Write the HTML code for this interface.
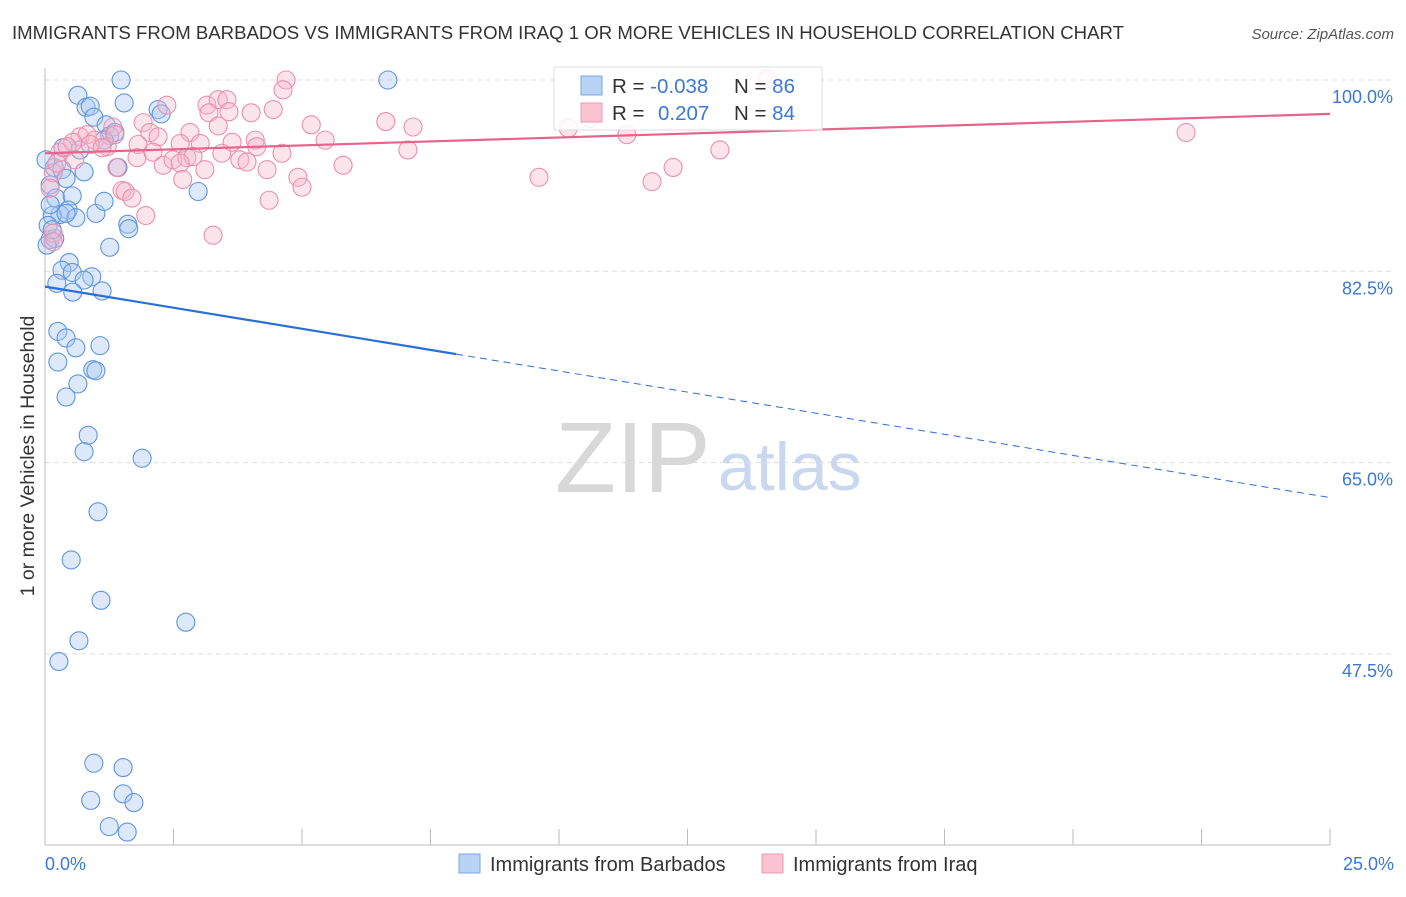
<!DOCTYPE html>
<html><head><meta charset="utf-8"><style>
body{margin:0;background:#fff;font-family:"Liberation Sans",sans-serif;}
svg text{font-family:"Liberation Sans",sans-serif;}
</style></head><body>
<svg id="c" width="1406" height="892">
<text x="12" y="39" font-size="18.6" fill="#333">IMMIGRANTS FROM BARBADOS VS IMMIGRANTS FROM IRAQ 1 OR MORE VEHICLES IN HOUSEHOLD CORRELATION CHART</text>
<text x="1394" y="39" font-size="15" fill="#555" text-anchor="end" font-style="italic">Source: ZipAtlas.com</text>
<text transform="translate(34,456) rotate(-90)" font-size="19.5" fill="#333" text-anchor="middle">1 or more Vehicles in Household</text>
<text x="555" y="492" font-size="100" fill="#d8d8d8" font-family="Liberation Serif">ZIP</text>
<text x="718" y="490" font-size="68" fill="#c9d8ef">atlas</text>
<g id="grid"></g><g id="axes"></g><g id="pts"></g><g id="trend"></g>
<g>
<rect x="554" y="67" width="268" height="63" fill="#fff" fill-opacity="0.85" stroke="#ddd"/>
<rect x="581" y="76" width="21" height="19" fill="#b9d3f5" stroke="#7aa6e6"/>
<rect x="581" y="103" width="21" height="19" fill="#f9c3d2" stroke="#ee9ab5"/>
<text x="612" y="93" font-size="20.5" fill="#333">R = <tspan fill="#3b78d8">-0.038</tspan></text>
<text x="734" y="93" font-size="20.5" fill="#333">N = <tspan fill="#3b78d8">86</tspan></text>
<text x="612" y="120" font-size="20.5" fill="#333">R = <tspan fill="#3b78d8" x="658">0.207</tspan></text>
<text x="734" y="120" font-size="20.5" fill="#333">N = <tspan fill="#3b78d8">84</tspan></text>
</g>
<g>
<rect x="459" y="854" width="21" height="19" fill="#b9d3f5" stroke="#7aa6e6"/>
<text x="490" y="871" font-size="20" fill="#333">Immigrants from Barbados</text>
<rect x="762" y="854" width="21" height="19" fill="#f9c3d2" stroke="#ee9ab5"/>
<text x="793" y="871" font-size="20" fill="#333">Immigrants from Iraq</text>
</g>
</svg>
<script>
const yTicks=[100,82.5,65,47.5];
const yTickLabels=["100.0%","82.5%","65.0%","47.5%"];
const xEndLabels=["0.0%","25.0%"];
const blueX=[1.48,6.67,0.64,0.80,0.88,1.54,2.20,2.26,0.95,1.19,1.26,1.36,1.15,2.98,0.18,0.33,0.76,0.41,0.10,0.21,0.53,0.45,0.29,0.14,0.60,0.99,0.41,1.15,1.61,1.63,0.10,0.19,1.26,0.47,0.33,0.53,0.91,0.76,0.23,0.54,1.11,0.25,0.41,0.60,1.07,0.25,0.93,0.99,0.64,0.41,0.84,0.76,1.89,1.03,0.51,1.09,2.74,0.66,0.27,0.95,1.52,0.89,1.52,1.73,1.25,1.60,0.06,0.04,0.14,1.42,0.02,0.10,0.35,0.68];
const blueY=[100,100,98.6,97.5,97.6,97.9,97.3,96.9,96.6,95.9,94.9,95.2,94.5,89.8,92.0,91.8,91.6,91.0,90.4,89.2,89.4,88.1,87.7,87.6,87.4,87.8,87.8,88.9,86.8,86.4,85.4,85.5,84.7,83.3,82.6,82.4,82.0,81.7,81.4,80.6,80.7,77.0,76.4,75.5,75.7,74.2,73.5,73.4,72.2,71.0,67.5,66.0,65.4,60.5,56.1,52.4,50.4,48.7,46.8,37.5,37.1,34.1,34.7,33.9,31.7,31.2,86.7,84.9,86.3,92.0,92.7,88.6,93.8,93.6];
const pinkX=[4.69,4.63,14.05,2.37,3.15,3.37,3.54,3.19,3.58,4.01,4.44,3.37,1.91,2.04,2.20,2.82,2.63,3.02,3.64,4.09,1.81,1.79,2.10,2.30,2.49,2.76,2.88,2.63,3.11,3.44,3.79,3.93,4.12,4.61,4.32,2.68,4.92,5.00,5.18,5.45,5.80,4.36,3.27,1.50,1.56,1.69,1.96,6.63,7.16,7.06,0.68,0.82,0.29,0.54,0.97,1.21,1.32,1.36,0.16,0.16,0.16,1.40,0.43,0.88,1.11,10.18,10.60,11.32,9.61,11.81,12.22,13.13,22.20,0.23,0.10,0.58];
const pinkY=[100,99.1,100.1,97.7,97.7,98.2,98.2,97.0,97.1,97.0,97.3,95.8,96.1,95.2,94.8,95.2,94.2,94.2,94.3,94.5,94.1,92.9,93.4,92.2,92.7,92.9,93.0,92.4,91.8,93.3,92.7,92.5,93.9,93.3,91.8,90.9,91.1,90.2,95.9,94.5,92.2,89.0,85.8,89.9,89.8,89.2,87.6,96.2,95.7,93.6,94.8,95.0,93.4,94.3,94.5,93.9,95.7,95.0,91.5,86.0,85.2,92.0,93.9,94.1,93.8,95.6,96.5,95.0,91.1,90.7,92.0,93.6,95.2,92.4,90.1,92.7];
const blueTrend=[81.1,61.8];
const blueSolidEnd=8.0;
const pinkTrend=[93.3,96.9];
const NS='http://www.w3.org/2000/svg';
const X=v=>45+v*(1330-45)/25;
const Y=v=>80+(100-v)*191.3/17.5;
function mk(t,a,p){const e=document.createElementNS(NS,t);for(const k in a)e.setAttribute(k,a[k]);p.appendChild(e);return e;}
const grid=document.getElementById('grid'),axes=document.getElementById('axes'),pts=document.getElementById('pts'),tr=document.getElementById('trend');
yTicks.forEach((t,i)=>{
 const l=mk('line',{x1:45,x2:1394,y1:Y(t),y2:Y(t),stroke:'#ddd','stroke-dasharray':'5,4'},grid);
 
 
 const tx=mk('text',{x:1393,y:Y(t)+23,'font-size':18,fill:'#3b78d8','text-anchor':'end'},axes);
 tx.textContent=yTickLabels[i];
 
 
});
const xa=mk('line',{x1:45,x2:1330,y1:845,y2:845,stroke:'#bbb'},axes);


const ya=mk('line',{x1:45,x2:45,y1:68,y2:845,stroke:'#bbb'},axes);


for(let i=0;i<=10;i++){const tk=mk('line',{x1:X(i*2.5),x2:X(i*2.5),y1:829,y2:845,stroke:'#bbb'},axes);
 
 }
xEndLabels.forEach((s,i)=>{const t=mk('text',{x:i?1394:45,y:870,'font-size':18,fill:'#3b78d8','text-anchor':i?'end':'start'},axes);t.textContent=s;
 
 });
blueX.forEach((v,i)=>{const c=mk('circle',{cx:X(v),cy:Y(blueY[i]),r:9,fill:'#a9c8f2','fill-opacity':0.4,stroke:'#5d95df','stroke-width':1.1},pts);
 
 });
pinkX.forEach((v,i)=>{const c=mk('circle',{cx:X(v),cy:Y(pinkY[i]),r:9,fill:'#f7b9cb','fill-opacity':0.38,stroke:'#ec8fad','stroke-width':1.1},pts);
 
 });
const bv=x=>blueTrend[0]+(blueTrend[1]-blueTrend[0])*x/25;
const b1=mk('line',{x1:X(0),y1:Y(bv(0)),x2:X(blueSolidEnd),y2:Y(bv(blueSolidEnd)),stroke:'#2a6fd6','stroke-width':2.2},tr);


const b2=mk('line',{x1:X(blueSolidEnd),y1:Y(bv(blueSolidEnd)),x2:X(25),y2:Y(bv(25)),stroke:'#2a6fd6','stroke-width':1,'stroke-dasharray':'7,5'},tr);


const p1=mk('line',{x1:X(0),y1:Y(pinkTrend[0]),x2:X(25),y2:Y(pinkTrend[1]),stroke:'#e8638c','stroke-width':2.2},tr);


</script>
</body></html>
